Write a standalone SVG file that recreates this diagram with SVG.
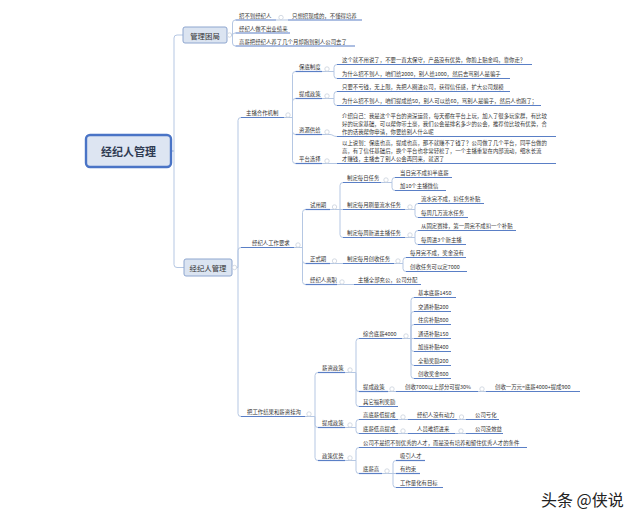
<svg xmlns="http://www.w3.org/2000/svg" width="640" height="524" viewBox="0 0 640 524">
<style>
.bg{fill:#ffffff}
text{font-family:"Noto Sans CJK SC","Noto Sans",sans-serif;fill:#333;dominant-baseline:central}
.t{font-size:5.4px}
.t1{font-size:7.4px;text-anchor:middle}
.t0{font-size:11px;font-weight:bold;text-anchor:middle;fill:#2f3b52}
.u{stroke:#5a7fc6;stroke-width:1.2;fill:none}
.c{stroke:#b5c7e3;stroke-width:1;fill:none}
.k{fill:#fff;stroke:#c3ccd9;stroke-width:0.7}
.b1{fill:#dbe4f1;stroke:#8ea6cf;stroke-width:1}
.b0{fill:#dde5f2;stroke:#4a74c6;stroke-width:2.4}
.wm{font-size:16px;fill:#222;font-family:"Noto Sans CJK SC",sans-serif}
</style>
<rect class="bg" width="640" height="524"/>
<g id="connectors">
<path class="c" d="M171 151 H174 V38 Q174 35 177 35 H183"/>
<path class="c" d="M171 151 H174 V264.5 Q174 267.5 177 267.5 H184"/>
<path class="c" d="M227 35 H232.5 V23 Q232.5 20 235.5 20"/>
<path class="c" d="M227 35 H231 C233 35 233 33 235.5 33"/>
<path class="c" d="M227 35 H232.5 V43 Q232.5 46 235.5 46"/>
<path class="c" d="M276 20 H288"/>
<path class="c" d="M232 267.5 H238 V120.5 Q238 117.5 241 117.5"/>
<path class="c" d="M232 267.5 H238 V250.5 Q238 247.5 241 247.5"/>
<path class="c" d="M232 267.5 H238 V413.5 Q238 416.5 241 416.5"/>
<path class="c" d="M284 117.5 H292.5 V74.5 Q292.5 71.5 295.5 71.5"/>
<path class="c" d="M284 117.5 H292.5 V101.5 Q292.5 98.5 295.5 98.5"/>
<path class="c" d="M284 117.5 H292.5 V131.5 Q292.5 134.5 295.5 134.5"/>
<path class="c" d="M284 117.5 H292.5 V160.5 Q292.5 163.5 295.5 163.5"/>
<path class="c" d="M322 71.5 H334 V67.5 Q334 64.5 337 64.5"/>
<path class="c" d="M322 71.5 H334 V75.5 Q334 78.5 337 78.5"/>
<path class="c" d="M322 98.5 H334 V94.5 Q334 91.5 337 91.5"/>
<path class="c" d="M322 98.5 H334 V102.5 Q334 105.5 337 105.5"/>
<path class="c" d="M322 134.5 H330 C333 134.5 333 136.5 337 136.5"/>
<path class="c" d="M322 163.5 H337"/>
<path class="c" d="M294 247.5 H302.5 V212.5 Q302.5 209.5 305.5 209.5"/>
<path class="c" d="M294 247.5 H302.5 V260.5 Q302.5 263.5 305.5 263.5"/>
<path class="c" d="M294 247.5 H302.5 V281.5 Q302.5 284.5 305.5 284.5"/>
<path class="c" d="M330 209.5 H340 V185.5 Q340 182.5 343 182.5"/>
<path class="c" d="M330 209.5 H343"/>
<path class="c" d="M330 209.5 H340 V234.5 Q340 237.5 343 237.5"/>
<path class="c" d="M381 182.5 H392 V180.5 Q392 177.5 395 177.5"/>
<path class="c" d="M381 182.5 H392 V187.5 Q392 190.5 395 190.5"/>
<path class="c" d="M405 209.5 H415 V206.5 Q415 203.5 418 203.5"/>
<path class="c" d="M405 209.5 H415 V214.5 Q415 217.5 418 217.5"/>
<path class="c" d="M405 237.5 H415 V233.5 Q415 230.5 418 230.5"/>
<path class="c" d="M405 237.5 H415 V241.5 Q415 244.5 418 244.5"/>
<path class="c" d="M330 263.5 H343"/>
<path class="c" d="M394 263.5 H403 V260.5 Q403 257.5 406 257.5"/>
<path class="c" d="M394 263.5 H403 V268.5 Q403 271.5 406 271.5"/>
<path class="c" d="M337 284.5 H354"/>
<path class="c" d="M305 416.5 H315 V375.5 Q315 372.5 318 372.5"/>
<path class="c" d="M305 416.5 H315 V424.5 Q315 427.5 318 427.5"/>
<path class="c" d="M305 416.5 H315 V457.5 Q315 460.5 318 460.5"/>
<path class="c" d="M345 372.5 H356 V341.5 Q356 338.5 359 338.5"/>
<path class="c" d="M345 372.5 H356 V388.5 Q356 391.5 359 391.5"/>
<path class="c" d="M345 372.5 H356 V403.5 Q356 406.5 359 406.5"/>
<path class="c" d="M402 338.5 H411 V300.5 Q411 297.5 414 297.5"/>
<path class="c" d="M402 338.5 H411 V314.5 Q411 311.5 414 311.5"/>
<path class="c" d="M402 338.5 H411 V327.5 Q411 324.5 414 324.5"/>
<path class="c" d="M402 338.5 H414"/>
<path class="c" d="M402 338.5 H411 V348.5 Q411 351.5 414 351.5"/>
<path class="c" d="M402 338.5 H411 V362.5 Q411 365.5 414 365.5"/>
<path class="c" d="M402 338.5 H411 V375.5 Q411 378.5 414 378.5"/>
<path class="c" d="M388 391.5 H396"/>
<path class="c" d="M478 391.5 H486"/>
<path class="c" d="M345 427.5 H356 V422.5 Q356 419.5 359 419.5"/>
<path class="c" d="M345 427.5 H356 V430.5 Q356 433.5 359 433.5"/>
<path class="c" d="M398 419.5 H408"/>
<path class="c" d="M457 419.5 H466"/>
<path class="c" d="M398 433.5 H408"/>
<path class="c" d="M455 433.5 H466"/>
<path class="c" d="M345 460.5 H356 V450.5 Q356 447.5 359 447.5"/>
<path class="c" d="M345 460.5 H356 V470.5 Q356 473.5 359 473.5"/>
<path class="c" d="M382 473.5 H393 V463.5 Q393 460.5 396 460.5"/>
<path class="c" d="M382 473.5 H396"/>
<path class="c" d="M382 473.5 H393 V484.5 Q393 487.5 396 487.5"/>
</g>

<g id="root"><rect class="b0" x="86" y="135" width="85" height="32" rx="4"/><text class="t0" x="128.5" y="151">经纪人管理</text></g>

<g id="n-guanli"><rect class="b1" x="183" y="27" width="44" height="16" rx="2"/><text class="t1" x="205" y="35">管理困局</text><circle class="k" cx="229.5" cy="35" r="2.2"/></g>
<g id="n-a1"><line class="u" x1="235.5" y1="20" x2="276" y2="20"/><text class="t" x="239" y="16">招不到经纪人</text><circle class="k" cx="281" cy="17.5" r="2.2"/></g>
<g id="n-a1a"><line class="u" x1="288" y1="20" x2="362" y2="20"/><text class="t" x="292" y="16">只想招现成的，不懂得培养</text></g>
<g id="n-a2"><line class="u" x1="235.5" y1="33" x2="290" y2="33"/><text class="t" x="239" y="29">经纪人做不出业绩来</text></g>
<g id="n-a3"><line class="u" x1="235.5" y1="46" x2="355" y2="46"/><text class="t" x="239" y="42">高薪把经纪人养了几个月却跑到别人公司去了</text></g>

<g id="n-jjr"><rect class="b1" x="184" y="259" width="48" height="17" rx="2"/><text class="t1" x="208" y="267.5">经纪人管理</text><circle class="k" cx="234.5" cy="267.5" r="2.2"/></g>

<g id="n-b1"><line class="u" x1="241" y1="117.5" x2="284" y2="117.5"/><text class="t" x="246" y="113">主播合作机制</text><circle class="k" cx="288" cy="115" r="2.2"/></g>
<g id="n-b1a"><line class="u" x1="295.5" y1="71.5" x2="322" y2="71.5"/><text class="t" x="299" y="67">保底制度</text><circle class="k" cx="327" cy="69" r="2.2"/></g>
<g id="n-b1a1"><line class="u" x1="337" y1="64.5" x2="532" y2="64.5"/><text class="t" x="342" y="60">这个就不用说了，不要一直太保守，产品没有优势，你脸上贴金吗，靠你走？</text></g>
<g id="n-b1a2"><line class="u" x1="337" y1="78.5" x2="510" y2="78.5"/><text class="t" x="342" y="74">为什么招不到人，咱们给2000，别人给1000，然后去骂别人是骗子</text></g>
<g id="n-b1b"><line class="u" x1="295.5" y1="98.5" x2="322" y2="98.5"/><text class="t" x="299" y="94">提成政策</text><circle class="k" cx="327" cy="96" r="2.2"/></g>
<g id="n-b1b1"><line class="u" x1="337" y1="91.5" x2="510" y2="91.5"/><text class="t" x="342" y="87">只要不亏钱，无上限，先把人圈进公司，获得信任感，扩大公司规模</text></g>
<g id="n-b1b2"><line class="u" x1="337" y1="105.5" x2="541" y2="105.5"/><text class="t" x="342" y="101">为什么招不到人，咱们提成给50，别人可以给60，骂别人是骗子，然后人也跑了；</text></g>
<g id="n-b1c"><line class="u" x1="295.5" y1="134.5" x2="322" y2="134.5"/><text class="t" x="299" y="130">资源供给</text><circle class="k" cx="327" cy="132" r="2.2"/></g>
<g id="n-b1c1"><line class="u" x1="337" y1="136.5" x2="556" y2="136.5"/><text class="t" x="342" y="116">介绍自己：我是这个平台的资深运营，每天都在平台上玩，加入了很多玩家群，有比较</text><text class="t" x="342" y="124">好的玩家基础，可以帮你带土豪，我们公会是排名多少的公会，推荐位比较有优势，合</text><text class="t" x="342" y="132">作的话我帮你申请，你要给别人什么呢</text></g>
<g id="n-b1d"><line class="u" x1="295.5" y1="163.5" x2="322" y2="163.5"/><text class="t" x="299" y="159">平台选择</text><circle class="k" cx="327" cy="161" r="2.2"/></g>
<g id="n-b1d1"><line class="u" x1="337" y1="163.5" x2="556" y2="163.5"/><text class="t" x="342" y="143">以上说到：保底也高，提成也高，那不就赚不了钱了？公司做了几个平台，同平台做的</text><text class="t" x="342" y="151">高，有了信任基础后，换个平台也非常轻松了，一个主播重复在内部流动，细水长流</text><text class="t" x="342" y="159">才赚钱，主播去了别人公会再回来，就迟了</text></g>

<g id="n-b2"><line class="u" x1="241" y1="247.5" x2="294" y2="247.5"/><text class="t" x="252" y="243">经纪人工作要求</text><circle class="k" cx="298" cy="245" r="2.2"/></g>
<g id="n-b2a"><line class="u" x1="305.5" y1="209.5" x2="330" y2="209.5"/><text class="t" x="310" y="205">试用期</text><circle class="k" cx="334.5" cy="207" r="2.2"/></g>
<g id="n-b2a1"><line class="u" x1="343" y1="182.5" x2="381" y2="182.5"/><text class="t" x="347" y="178">制定每日任务</text><circle class="k" cx="386" cy="180" r="2.2"/></g>
<g id="n-b2a1a"><line class="u" x1="395" y1="177.5" x2="452" y2="177.5"/><text class="t" x="400" y="173">当日完不成扣半底薪</text></g>
<g id="n-b2a1b"><line class="u" x1="395" y1="190.5" x2="446" y2="190.5"/><text class="t" x="400" y="186">加10个主播微信</text></g>
<g id="n-b2a2"><line class="u" x1="343" y1="209.5" x2="405" y2="209.5"/><text class="t" x="347" y="205">制定每月刷量流水任务</text><circle class="k" cx="410" cy="207" r="2.2"/></g>
<g id="n-b2a2a"><line class="u" x1="418" y1="203.5" x2="484" y2="203.5"/><text class="t" x="421" y="199">流水完不成，扣任务补贴</text></g>
<g id="n-b2a2b"><line class="u" x1="418" y1="217.5" x2="468" y2="217.5"/><text class="t" x="421" y="213">每周几万流水任务</text></g>
<g id="n-b2a3"><line class="u" x1="343" y1="237.5" x2="405" y2="237.5"/><text class="t" x="347" y="233">制定每周新进主播任务</text><circle class="k" cx="410" cy="235" r="2.2"/></g>
<g id="n-b2a3a"><line class="u" x1="418" y1="230.5" x2="516" y2="230.5"/><text class="t" x="421" y="226">从固定赛排，第一周完不成扣一个补贴</text></g>
<g id="n-b2a3b"><line class="u" x1="418" y1="244.5" x2="466" y2="244.5"/><text class="t" x="421" y="240">每周进3个新主播</text></g>
<g id="n-b2b"><line class="u" x1="305.5" y1="263.5" x2="330" y2="263.5"/><text class="t" x="310" y="259">正式期</text><circle class="k" cx="334.5" cy="261" r="2.2"/></g>
<g id="n-b2b1"><line class="u" x1="343" y1="263.5" x2="394" y2="263.5"/><text class="t" x="347" y="259">制定每月创收任务</text><circle class="k" cx="398" cy="261" r="2.2"/></g>
<g id="n-b2b1a"><line class="u" x1="406" y1="257.5" x2="466" y2="257.5"/><text class="t" x="410" y="253">每月完不成，奖金没有</text></g>
<g id="n-b2b1b"><line class="u" x1="406" y1="271.5" x2="467" y2="271.5"/><text class="t" x="410" y="267">创收任务可以定7000</text></g>
<g id="n-b2c"><line class="u" x1="305.5" y1="284.5" x2="337" y2="284.5"/><text class="t" x="310" y="280">经纪人离职</text><circle class="k" cx="342" cy="282" r="2.2"/></g>
<g id="n-b2c1"><line class="u" x1="354" y1="284.5" x2="421" y2="284.5"/><text class="t" x="358" y="280">主播全部充公，公司分配</text></g>

<g id="n-b3"><line class="u" x1="241" y1="416.5" x2="305" y2="416.5"/><text class="t" x="247" y="412">把工作结果和薪资挂沟</text><circle class="k" cx="309" cy="414" r="2.2"/></g>
<g id="n-b3a"><line class="u" x1="318" y1="372.5" x2="345" y2="372.5"/><text class="t" x="322" y="368">薪资政策</text><circle class="k" cx="350" cy="370" r="2.2"/></g>
<g id="n-b3a1"><line class="u" x1="359" y1="338.5" x2="402" y2="338.5"/><text class="t" x="363" y="334">综合底薪4000</text><circle class="k" cx="406" cy="336" r="2.2"/></g>
<g id="n-s1"><line class="u" x1="414" y1="297.5" x2="456" y2="297.5"/><text class="t" x="418" y="293">基本底薪1450</text></g>
<g id="n-s2"><line class="u" x1="414" y1="311.5" x2="451" y2="311.5"/><text class="t" x="418" y="307">交通补贴200</text></g>
<g id="n-s3"><line class="u" x1="414" y1="324.5" x2="451" y2="324.5"/><text class="t" x="418" y="320">住房补贴800</text></g>
<g id="n-s4"><line class="u" x1="414" y1="338.5" x2="451" y2="338.5"/><text class="t" x="418" y="334">通话补贴150</text></g>
<g id="n-s5"><line class="u" x1="414" y1="351.5" x2="451" y2="351.5"/><text class="t" x="418" y="347">加班补贴400</text></g>
<g id="n-s6"><line class="u" x1="414" y1="365.5" x2="451" y2="365.5"/><text class="t" x="418" y="361">全勤奖励200</text></g>
<g id="n-s7"><line class="u" x1="414" y1="378.5" x2="451" y2="378.5"/><text class="t" x="418" y="374">创收奖金800</text></g>
<g id="n-b3a2"><line class="u" x1="359" y1="391.5" x2="388" y2="391.5"/><text class="t" x="363" y="387">提成政策</text><circle class="k" cx="392" cy="389" r="2.2"/></g>
<g id="n-b3a2a"><line class="u" x1="396" y1="391.5" x2="478" y2="391.5"/><text class="t" x="405" y="387">创收7000以上部分可提30%</text><circle class="k" cx="482" cy="389" r="2.2"/></g>
<g id="n-b3a2b"><line class="u" x1="486" y1="391.5" x2="580" y2="391.5"/><text class="t" x="495" y="387">创收一万元=底薪4000+提成900</text></g>
<g id="n-b3a3"><line class="u" x1="359" y1="406.5" x2="398" y2="406.5"/><text class="t" x="363" y="402">其它福利奖励</text></g>
<g id="n-b3b"><line class="u" x1="318" y1="427.5" x2="345" y2="427.5"/><text class="t" x="322" y="423">提成政策</text><circle class="k" cx="350" cy="425" r="2.2"/></g>
<g id="n-b3b1"><line class="u" x1="359" y1="419.5" x2="398" y2="419.5"/><text class="t" x="363" y="415">高底薪低提成</text><circle class="k" cx="403" cy="417" r="2.2"/></g>
<g id="n-b3b1a"><line class="u" x1="408" y1="419.5" x2="457" y2="419.5"/><text class="t" x="417" y="415">经纪人没有动力</text><circle class="k" cx="461.5" cy="417" r="2.2"/></g>
<g id="n-b3b1b"><line class="u" x1="466" y1="419.5" x2="499" y2="419.5"/><text class="t" x="475" y="415">公司亏化</text></g>
<g id="n-b3b2"><line class="u" x1="359" y1="433.5" x2="398" y2="433.5"/><text class="t" x="363" y="429">底薪低高提成</text><circle class="k" cx="403" cy="431" r="2.2"/></g>
<g id="n-b3b2a"><line class="u" x1="408" y1="433.5" x2="455" y2="433.5"/><text class="t" x="417" y="429">人员难招进来</text><circle class="k" cx="461" cy="431" r="2.2"/></g>
<g id="n-b3b2b"><line class="u" x1="466" y1="433.5" x2="503" y2="433.5"/><text class="t" x="475" y="429">公司没效益</text></g>
<g id="n-b3c"><line class="u" x1="318" y1="460.5" x2="345" y2="460.5"/><text class="t" x="322" y="456">政策优势</text><circle class="k" cx="350" cy="458" r="2.2"/></g>
<g id="n-b3c1"><line class="u" x1="359" y1="447.5" x2="527" y2="447.5"/><text class="t" x="363" y="443">公司不是招不到优秀的人才，而是没有培养和留住优秀人才的条件</text></g>
<g id="n-b3c2"><line class="u" x1="359" y1="473.5" x2="382" y2="473.5"/><text class="t" x="363" y="469">底薪高</text><circle class="k" cx="387" cy="471" r="2.2"/></g>
<g id="n-b3c2a"><line class="u" x1="396" y1="460.5" x2="425" y2="460.5"/><text class="t" x="400" y="456">吸引人才</text></g>
<g id="n-b3c2b"><line class="u" x1="396" y1="473.5" x2="420" y2="473.5"/><text class="t" x="400" y="469">有约束</text></g>
<g id="n-b3c2c"><line class="u" x1="396" y1="487.5" x2="443" y2="487.5"/><text class="t" x="400" y="483">工作量化有目标</text></g>

<text class="wm" x="541" y="499">头条 @侠说</text>
</svg>
